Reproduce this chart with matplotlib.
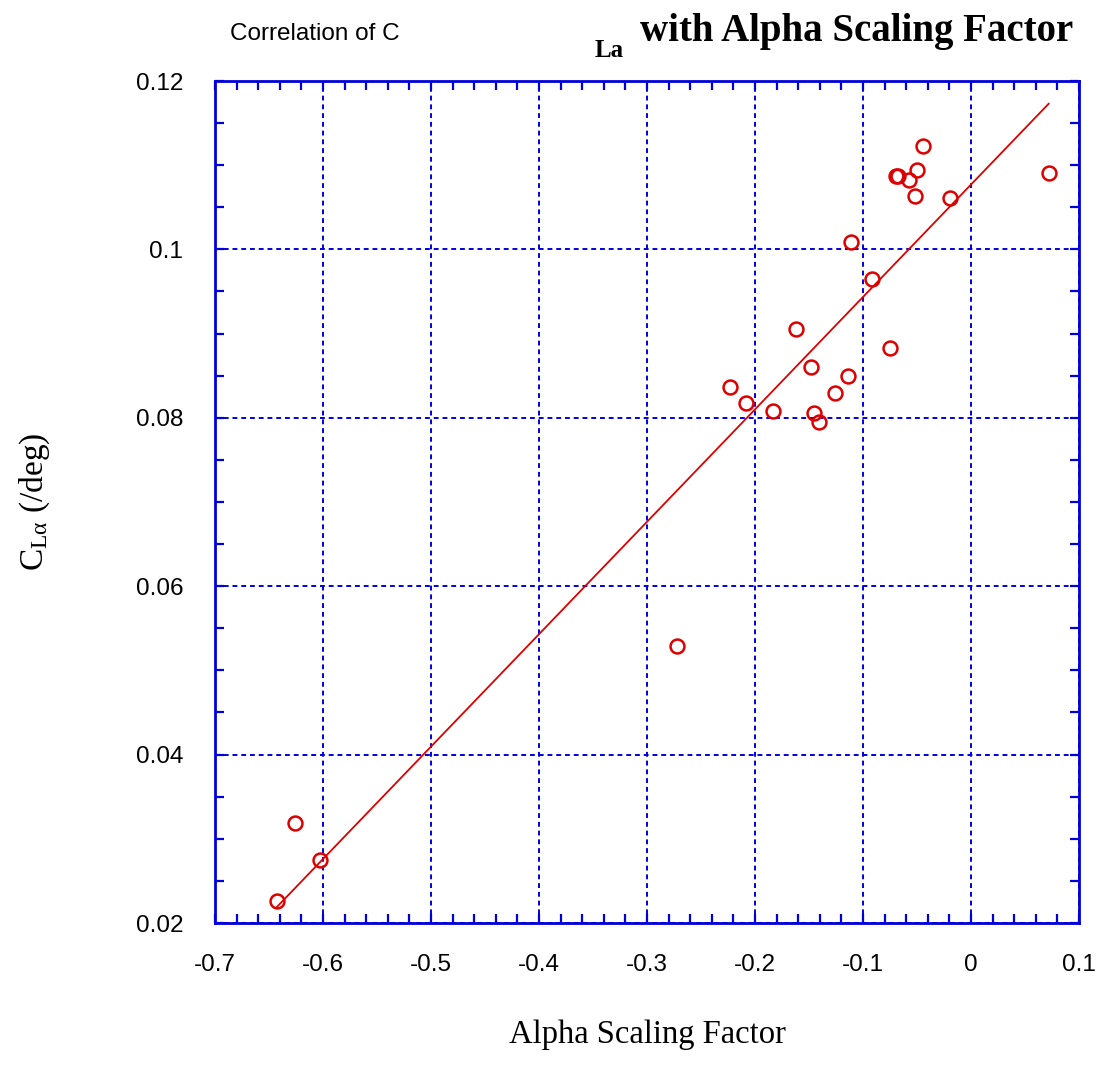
import numpy as np
import matplotlib
matplotlib.use("Agg")
import matplotlib.pyplot as plt
from matplotlib.ticker import MultipleLocator

# data
alpha_scale = [-0.0447, -0.0503, -0.0694, -0.0680, -0.0574, -0.0516, -0.0194, 0.0719,
               -0.1114, -0.0917, -0.1623, -0.0753, -0.1484, -0.1142, -0.2234, -0.2083,
               -0.1256, -0.1836, -0.1456, -0.1410, -0.2725, -0.6262, -0.6031, -0.6429]
cla = [0.1123, 0.1094, 0.1087, 0.1087, 0.1082, 0.1064, 0.1061, 0.1091,
       0.1009, 0.0965, 0.0905, 0.0883, 0.0860, 0.0850, 0.0837, 0.0817,
       0.0830, 0.0808, 0.0806, 0.0795, 0.0529, 0.0319, 0.0275, 0.0226]
fit_slope = 0.1335
fit_intercept = 0.1077

blue = "#0000dd"
red = "#dd0000"

plt.rcParams['mathtext.fontset'] = 'custom'
plt.rcParams['mathtext.rm'] = 'Liberation Serif'
plt.rcParams['mathtext.it'] = 'Liberation Serif:italic'

fig = plt.figure(figsize=(10.97, 10.68), dpi=100)
ax = fig.add_axes([215 / 1097, 1 - 923 / 1068, 864 / 1097, 842 / 1068])

ax.plot(alpha_scale, cla, 'o', mfc='none', mec=red, mew=1.8, ms=10, ls='none')
xf = np.array([min(alpha_scale), max(alpha_scale)])
ax.plot(xf, fit_slope * xf + fit_intercept, color=red, lw=1.3)

ax.set_xlim(-0.7, 0.1)
ax.set_ylim(0.02, 0.12)
ax.xaxis.set_minor_locator(MultipleLocator(0.02))
ax.yaxis.set_minor_locator(MultipleLocator(0.005))
ax.set_xticks(np.arange(-0.7, 0.11, 0.1))
ax.set_xticklabels(['-0.7', '-0.6', '-0.5', '-0.4', '-0.3', '-0.2', '-0.1', '0', '0.1'])
ax.set_yticks([0.02, 0.04, 0.06, 0.08, 0.1, 0.12])
ax.set_yticklabels(['0.02', '0.04', '0.06', '0.08', '0.1', '0.12'])

for s in ax.spines.values():
    s.set_color(blue)
    s.set_linewidth(2)
ax.tick_params(which='both', direction='in', top=True, right=True, color=blue, width=1.6, length=6.5)
ax.tick_params(axis='x', which='major', pad=22, labelsize=17.5)
ax.tick_params(axis='y', which='major', pad=23, labelsize=17.5)
for lab in ax.get_xticklabels() + ax.get_yticklabels():
    lab.set_family('Liberation Sans')

ax.grid(True, which='major', color=blue, lw=1.4, ls=(0, (2.5, 2)))

ax.set_xlabel('Alpha Scaling Factor', family='Liberation Serif', fontsize=23.5, labelpad=32)
ax.set_ylabel('$\\mathrm{C_{L\u03b1}}$ (/deg)', family='Liberation Serif', fontsize=24, labelpad=60)

fig.text(230 / 1097, 1 - 40 / 1068, 'Correlation of C', family='Liberation Sans', fontsize=17.5,
         ha='left', va='baseline')
fig.text(595 / 1097, 1 - 57 / 1068, 'La', family='Liberation Serif', fontsize=18,
         weight='bold', ha='left', va='baseline')
fig.text(1073 / 1097, 1 - 41 / 1068, 'with Alpha Scaling Factor', family='Liberation Serif',
         fontsize=28, weight='bold', ha='right', va='baseline')

fig.savefig('out.png', dpi=100)
